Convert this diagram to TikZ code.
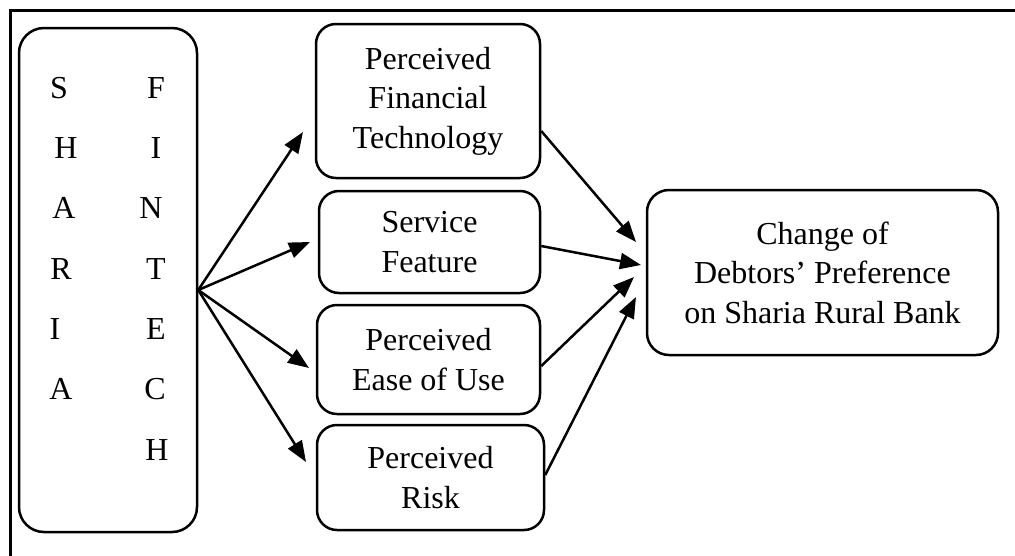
\documentclass[tikz,border=0pt]{standalone}
\usepackage{fontspec}
\setmainfont{Liberation Serif}
\usetikzlibrary{arrows.meta,calc}
\tikzset{
  box/.style={draw, line width=2.5pt, rounded corners=20pt, align=center, inner sep=0pt,
    font=\fontsize{32}{39.5}\selectfont},
  letter/.style={inner sep=0pt, font=\fontsize{32}{39.5}\selectfont},
  arr/.style={line width=2.5pt, -{Triangle[length=21pt,width=16pt]}},
  frame/.style={line width=3pt}
}
\begin{document}
\begin{tikzpicture}[x=1pt,y=-1pt]
\useasboundingbox (0,0) rectangle (1015,555);
% outer frame (top and left)
\coordinate (ftr) at (1020,10);
\coordinate (ftl) at (10,10);
\coordinate (fbl) at (10,560);
\draw[frame] (ftr) -- (ftl) -- (fbl);
% left box
\node[box, rounded corners=25pt, minimum width=178pt, minimum height=504pt] (lb) at (108,280) {};
% letters
\foreach \l/\x/\y/\n in {S/59/88/a1, H/66/148/a2, A/64/208/a3, R/61/269/a4, I/55/329/a5, A/61/389/a6}
  \node[letter] (\n) at (\x,\y) {\l};
\foreach \l/\x/\y/\n in {F/156/88/b1, I/156/148/b2, N/151/208/b3, T/156/269/b4, E/156/329/b5, C/155/389/b6, H/157/450/b7}
  \node[letter] (\n) at (\x,\y) {\l};
% middle boxes
\node[box, minimum width=224pt, minimum height=154pt] (pft) at (428,101) {Perceived\\Financial\\Technology};
\node[box, minimum width=221pt, minimum height=102pt] (sf) at (429.5,242) {Service\\Feature};
\node[box, minimum width=223pt, minimum height=109pt] (peu) at (428.5,359.5) {Perceived\\Ease of Use};
\node[box, minimum width=227pt, minimum height=105pt] (pr) at (430.5,477.5) {Perceived\\Risk};
% right box
\node[box, rounded corners=22pt, minimum width=351pt, minimum height=165pt] (cd) at (822.5,272.5) {Change of\\Debtors’ Preference\\on Sharia Rural Bank};
% arrows from the left box
\coordinate (o) at ($(lb.east)+(0,10)$);
\coordinate (t1) at (303,132);
\coordinate (t2) at (310,242);
\coordinate (t3) at (309,368);
\coordinate (t4) at (306,462);
\draw[arr] (o) -- (t1);
\draw[arr] (o) -- (t2);
\draw[arr] (o) -- (t3);
\draw[arr] (o) -- (t4);
% arrows to the right box
\coordinate (e1) at (636,242);
\coordinate (e2) at (641,265);
\coordinate (e3) at (634,277);
\coordinate (e4) at (636,297);
\draw[arr] ($(pft.east)+(0,30)$) -- (e1);
\draw[arr] ($(sf.east)+(0,4)$) -- (e2);
\draw[arr] ($(peu.east)+(0,6.5)$) -- (e3);
\draw[arr] ($(pr.east)+(0,-2.5)$) -- (e4);
\end{tikzpicture}
\end{document}
